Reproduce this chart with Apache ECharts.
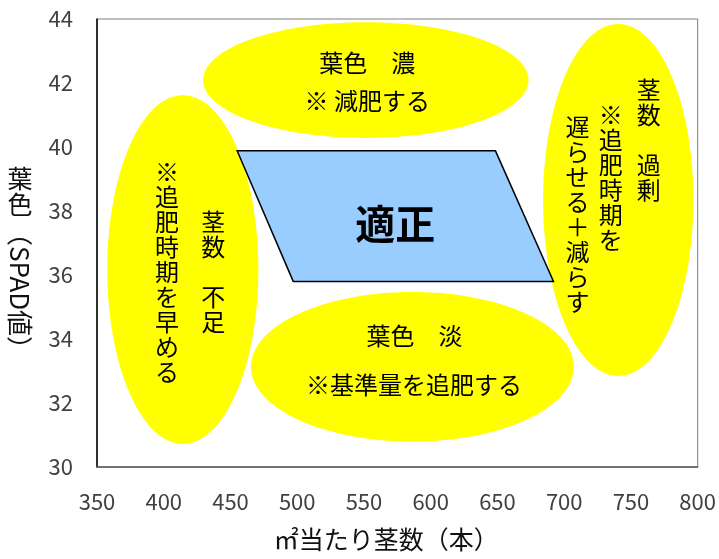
<!DOCTYPE html>
<html>
<head>
<meta charset="utf-8">
<script src="https://cdn.jsdelivr.net/npm/echarts@6/dist/echarts.min.js"></script>
<style>html,body{margin:0;padding:0;background:#fff}#c{width:719px;height:559px}</style>
</head>
<body>
<div id="c"></div>
<script>
// Axis ticks
var xTicks = [350, 400, 450, 500, 550, 600, 650, 700, 750, 800];
var yTicks = [30, 32, 34, 36, 38, 40, 42, 44];

// Ellipse regions (data units): centre x, centre y, radius x, radius y
var ellipseCX = [551.4, 414.3, 740.5, 586.3];
var ellipseCY = [42.09, 36.17, 38.34, 33.13];
var ellipseRX = [121.9, 56.6, 56.3, 121.0];
var ellipseRY = [1.81, 5.45, 5.50, 2.34];

// Optimum parallelogram vertices
var optX = [455, 648.5, 692, 497];
var optY = [39.88, 39.88, 35.80, 35.80];

// Annotation texts and their anchor points (data units)
var labelTexts = ['葉色　濃', '※ 減肥する', '葉色　淡', '※基準量を追肥する',
                  '※追肥時期を早める', '茎数　不足',
                  '茎数　過剰', '※追肥時期を', '遅らせる＋減らす'];
var labelX = [552.5, 552.5, 587.8, 587.5, 402.5, 437.0, 763.3, 734.8, 710.0];
var labelY = [42.63, 41.44, 34.09, 32.56, 36.11, 36.11, 40.23, 39.05, 37.91];
var labelVertical = [false, false, false, false, true, true, true, true, true];

var optLabel = '適正';
var optLabelX = 573.5;
var optLabelY = 37.6;

var FONT = '"Noto Sans CJK JP", "Noto Sans", sans-serif';

var chart = echarts.init(document.getElementById('c'), null, {renderer: 'canvas'});

var ellipseData = ellipseCX.map(function (cx, i) {
  return [cx, ellipseCY[i], ellipseRX[i], ellipseRY[i]];
});
var labelData = labelTexts.map(function (t, i) {
  return [labelX[i], labelY[i], t, labelVertical[i] ? 1 : 0];
});

chart.setOption({
  animation: false,
  grid: {left: 97, right: 21, top: 19, bottom: 92, show: true, borderColor: '#808080', borderWidth: 1},
  xAxis: {
    type: 'value', min: 350, max: 800, interval: 50,
    name: '㎡当たり茎数（本）', nameLocation: 'middle', nameGap: 60,
    nameTextStyle: {fontSize: 25, color: '#111', fontFamily: FONT, padding: [0, 22, 0, 0]},
    axisLine: {show: true, lineStyle: {color: '#595959', width: 1.5}},
    axisTick: {show: false},
    splitLine: {show: false},
    axisLabel: {fontSize: 22, color: '#404040', margin: 24, fontFamily: FONT}
  },
  yAxis: {
    type: 'value', min: 30, max: 44, interval: 2,
    axisLine: {show: true, lineStyle: {color: '#000', width: 1.5}},
    axisTick: {show: false},
    splitLine: {show: false},
    axisLabel: {fontSize: 22, color: '#404040', margin: 24, fontFamily: FONT}
  },
  graphic: [
    {type: 'text', x: 20, y: 191, style: {text: '葉\n色', lineHeight: 26, fill: '#111', font: '25px ' + FONT, textAlign: 'center', textVerticalAlign: 'middle'}},
    {type: 'text', x: 20, y: 291, rotation: -Math.PI / 2, style: {text: '（SPAD値）', fill: '#111', font: '26px ' + FONT, textAlign: 'center', textVerticalAlign: 'middle'}}
  ],
  series: [
    {
      type: 'custom', coordinateSystem: 'cartesian2d', z: 1,
      data: ellipseData,
      encode: {x: 0, y: 1},
      renderItem: function (params, api) {
        var c = api.coord([api.value(0), api.value(1)]);
        var s = api.size([api.value(2), api.value(3)]);
        return {type: 'ellipse', shape: {cx: c[0], cy: c[1], rx: s[0], ry: s[1]}, style: {fill: '#FFFF00', stroke: null}};
      }
    },
    {
      type: 'custom', coordinateSystem: 'cartesian2d', z: 2,
      data: [[optX[0], optY[0]]],
      renderItem: function (params, api) {
        var pts = optX.map(function (x, i) { return api.coord([x, optY[i]]); });
        return {type: 'polygon', shape: {points: pts}, style: {fill: '#99CCFF', stroke: '#000', lineWidth: 1.5}};
      }
    },
    {
      type: 'custom', coordinateSystem: 'cartesian2d', z: 3,
      data: labelData,
      encode: {x: 0, y: 1},
      renderItem: function (params, api) {
        var c = api.coord([api.value(0), api.value(1)]);
        var t = labelData[params.dataIndex][2];
        var vert = labelData[params.dataIndex][3] === 1;
        var txt = vert ? t.split('').join('\n') : t;
        return {type: 'text', x: c[0], y: c[1], style: {text: txt, font: '24px ' + FONT, lineHeight: 25, fill: '#000', textAlign: 'center', textVerticalAlign: 'middle'}};
      }
    },
    {
      type: 'custom', coordinateSystem: 'cartesian2d', z: 4,
      data: [[optLabelX, optLabelY]],
      encode: {x: 0, y: 1},
      renderItem: function (params, api) {
        var c = api.coord([api.value(0), api.value(1)]);
        return {type: 'text', x: c[0], y: c[1], style: {text: optLabel, font: 'bold 40px ' + FONT, fill: '#000', textAlign: 'center', textVerticalAlign: 'middle'}};
      }
    }
  ]
});
</script>
</body>
</html>
